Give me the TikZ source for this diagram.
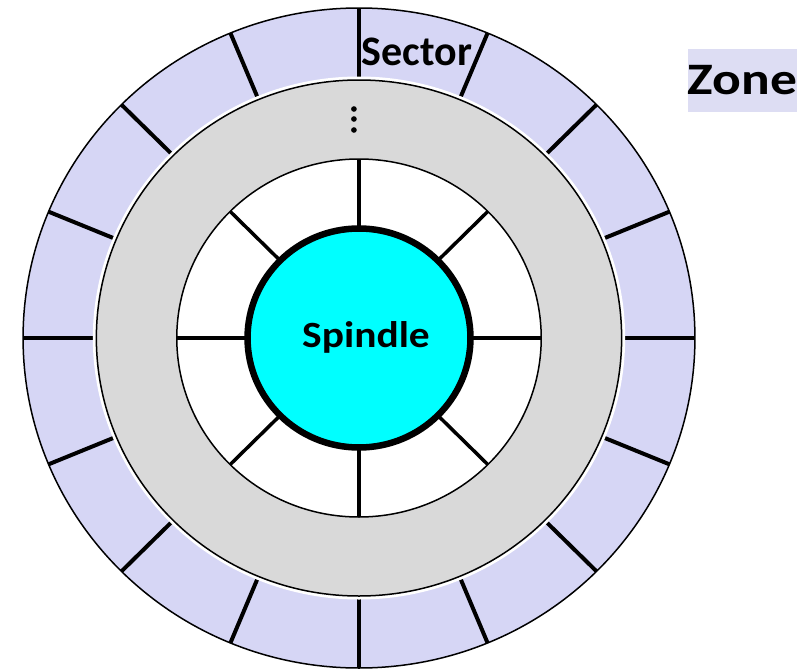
\documentclass[tikz,border=0pt]{standalone}
\usepackage{fontspec}
\usepackage{graphicx}
\setmainfont{Carlito}
\definecolor{zonefill}{RGB}{214,214,245}
\definecolor{labelfill}{RGB}{221,221,243}
\definecolor{trackfill}{RGB}{217,217,217}
\definecolor{spindlefill}{RGB}{0,255,255}
\tikzset{
  rim/.style={line width=1.5pt},
  spoke/.style={line width=4pt},
  label/.style={font=\bfseries\fontsize{42}{42}\selectfont, inner sep=0pt}
}
\begin{document}
\begin{tikzpicture}[x=1pt,y=-1pt]
    \useasboundingbox (0,0) rectangle (807,672);
    \coordinate (c) at (359,338);
    \begin{scope}[shift={(c)},xscale=1.018]
        % outer zone, cut into sectors
        \draw[rim,fill=zonefill] (0,0) circle (330);
        \foreach \a in {0,22.5,...,337.5} {
             \draw[spoke] (\a:259) -- (\a:330);
        }
        % the tracks in between
        \draw[line width=5pt,white] (0,0) circle (259);
        \draw[rim,fill=trackfill] (0,0) circle (258);
        % inner zone
        \draw[rim,fill=white] (0,0) circle (179);
        \foreach \a in {0,45,...,315} {
             \draw[line width=3.5pt] (\a:110) -- (\a:179);
        }
        \draw[line width=6.5pt,fill=spindlefill] (0,0) circle (109.5);
        % vertical dots
        \foreach \y in {-229,-219,-208} {
             \fill (-5,\y) circle (2.8);
        }
    \end{scope}
    \node[label,anchor=base] (sector) at (417,65) {Sector};
    \node[label,fill=labelfill,minimum width=109pt,minimum height=63pt] (zone) at (742.5,80.5)
        {\raisebox{-2pt}{\scalebox{1.19}[1]{\fontsize{45}{45}\selectfont Zone}}};
    \node[label,anchor=base] (spindle) at (366,347) {\scalebox{1.12}[1]{\fontsize{37}{37}\selectfont Spindle}};
\end{tikzpicture}
\end{document}
